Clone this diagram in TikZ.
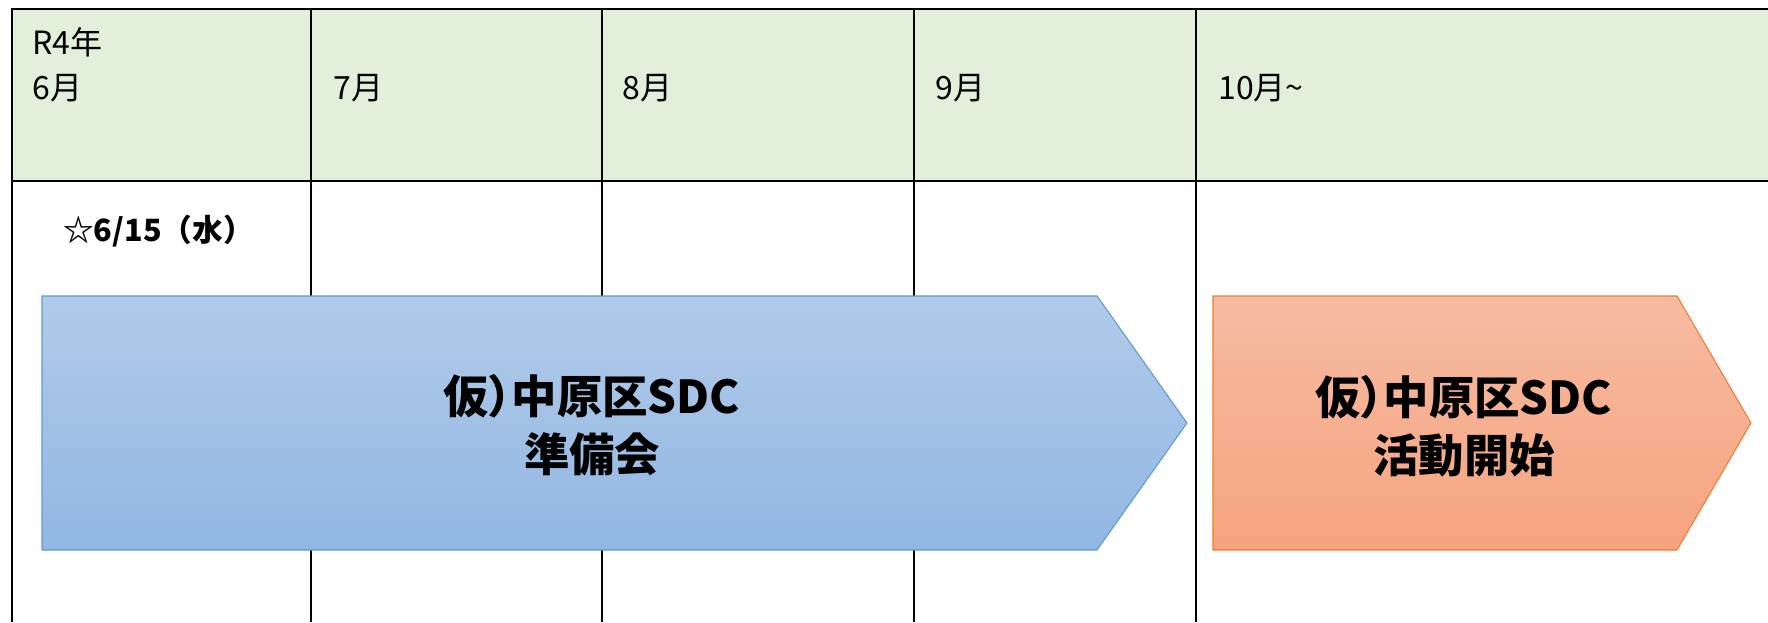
\documentclass[tikz,border=0pt]{standalone}
\usepackage{fontspec}
\setmainfont{Noto Sans CJK JP}
\newcommand{\narrowparen}{{\addfontfeature{RawFeature=+palt}）}}
\definecolor{hdr}{HTML}{E2EFDA}
\definecolor{blueT}{HTML}{B1CBE9}
\definecolor{blueB}{HTML}{92B7E3}
\definecolor{blueE}{HTML}{5B9BD5}
\definecolor{orT}{HTML}{F7BBA2}
\definecolor{orB}{HTML}{F5A47F}
\definecolor{orE}{HTML}{ED7D31}
\begin{document}
\begin{tikzpicture}[x=0.75pt,y=-0.75pt,
  grid/.style={line width=1.6pt,black},
  hdrtext/.style={anchor=west,inner sep=0pt,font=\fontsize{24}{30}\selectfont},
  datetext/.style={anchor=west,inner sep=0pt,font=\fontsize{23}{27}\selectfont\bfseries},
  bartext/.style={align=center,inner sep=0pt,font=\fontsize{34}{43.5}\selectfont\bfseries},
  chevron/.style={line width=0.8pt}]
\useasboundingbox (0,0) rectangle (1768,622);
\fill[hdr] (12,9) rectangle (1768,181);
\draw[grid] (1768,9) -- (12,9) -- (12,622);
\draw[grid] (12,181) -- (1768,181);
\foreach \x in {311,602,914,1196} \draw[grid] (\x,9) -- (\x,622);
\draw[chevron, draw=blueE, top color=blueT, bottom color=blueB]
  (42,296) -- (1097,296) -- (1187,423) -- (1097,550) -- (42,550) -- cycle;
\draw[chevron, draw=orE, top color=orT, bottom color=orB]
  (1213,296) -- (1677,296) -- (1751,423) -- (1677,550) -- (1213,550) -- cycle;
\node[hdrtext] (r4) at (32,42) {R4年};
\node[hdrtext] (m6) at (32,88) {6月};
\node[hdrtext] (m7) at (333,88) {7月};
\node[hdrtext] (m8) at (622,88) {8月};
\node[hdrtext] (m9) at (935,88) {9月};
\node[hdrtext] (m10) at (1218,88) {10月\textasciitilde};
\node[datetext] (d615) at (63,231) {☆6/15（水）};
\node[bartext] (prep) at (592,425) {仮\narrowparen 中原区SDC\\準備会};
\node[bartext] (act) at (1464,426) {仮\narrowparen 中原区SDC\\活動開始};
\end{tikzpicture}
\end{document}
